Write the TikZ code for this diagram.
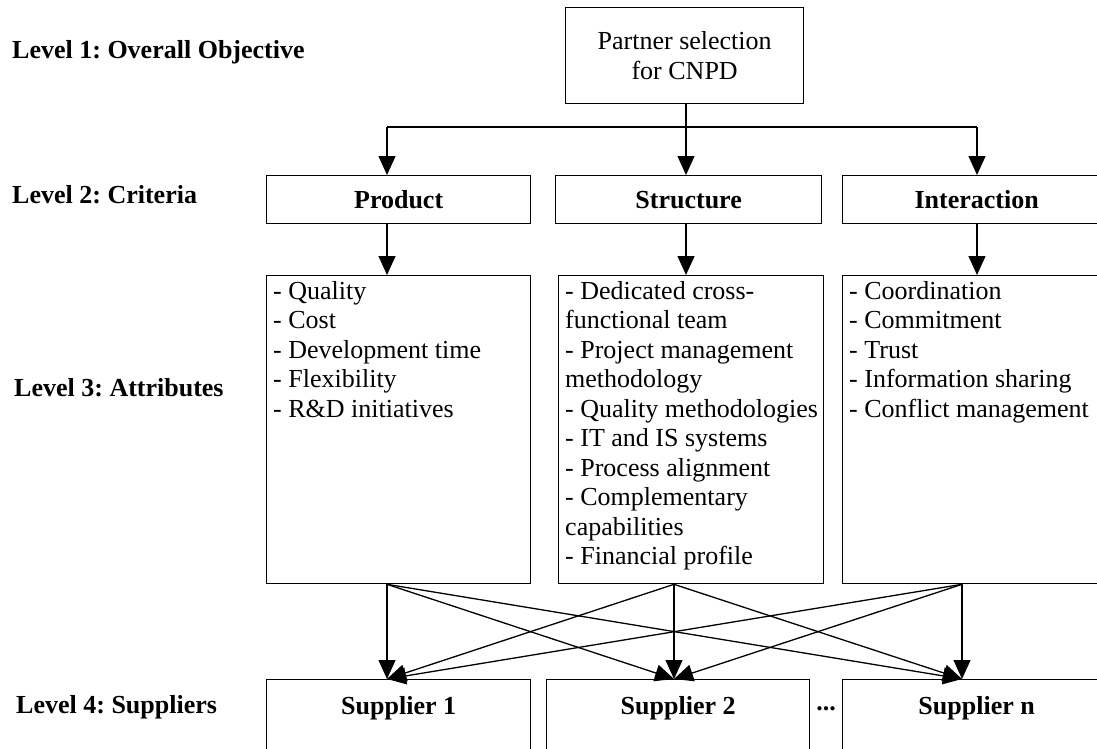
\documentclass[tikz,border=0pt]{standalone}
\usepackage{fontspec}
\setmainfont{Liberation Serif}
\usetikzlibrary{arrows.meta,positioning}
\frenchspacing

\tikzset{
  box/.style={draw, line width=1.3pt, inner sep=0pt, anchor=north west},
  head/.style={font=\fontsize{26}{30}\selectfont\bfseries, inner sep=0pt},
  attr/.style={font=\fontsize{26}{29.5}\selectfont, align=left, inner sep=0pt},
  arr/.style={line width=1.3pt, -{Triangle[length=19pt,width=17pt]}},
}

\begin{document}
\begin{tikzpicture}[x=1pt,y=-1pt]
            \clip (0,0) rectangle (1097,749);

            %level names
            \node[head, anchor=west] (lev1) at (12,52) {Level 1: Overall Objective};

            \node[head, anchor=west] (lev2) at (12,195) {Level 2: Criteria};

            \node[head, anchor=west] (lev3) at (14,388) {Level 3: Attributes};

            \node[head, anchor=west] (lev4) at (16,707) {Level 4: Suppliers};

            %objective
            \node[box, minimum width=238pt, minimum height=96pt, align=center, font=\fontsize{26}{30}\selectfont] (goal) at (565,7) {Partner selection\\for CNPD};

            %criteria
            \node[box, head, minimum width=264pt, minimum height=48pt] (prod2) at (266,175) {Product};

            \node[box, head, minimum width=266pt, minimum height=48pt] (struc2) at (555,175) {Structure};

            \node[box, head, minimum width=268pt, minimum height=48pt] (inter2) at (842,175) {Interaction};

            %attributes
            \node[box, minimum width=264pt, minimum height=308pt] (prod3) at (266,275) {};

            \node[attr, below right=6pt and 7pt of prod3.north west] (prodlist) {- Quality\\- Cost\\- Development time\\- Flexibility\\- R\&D initiatives};

            \node[box, minimum width=265pt, minimum height=308pt] (struc3) at (558,275) {};

            \node[attr, below right=6pt and 7pt of struc3.north west] (struclist) {- Dedicated cross-\\functional team\\- Project management\\methodology\\- Quality methodologies\\- IT and IS systems\\- Process alignment\\- Complementary\\capabilities\\- Financial profile};

            \node[box, minimum width=268pt, minimum height=308pt] (inter3) at (842,275) {};

            \node[attr, below right=6pt and 7pt of inter3.north west] (interlist) {- Coordination\\- Commitment\\- Trust\\- Information sharing\\- Conflict management};

            %suppliers
            \node[box, minimum width=264pt, minimum height=100pt] (sup1) at (266,679) {};

            \node[head, below=17pt of sup1.north] (sup1name) {Supplier 1};

            \node[box, minimum width=263pt, minimum height=100pt] (sup2) at (546,679) {};

            \node[head, below=17pt of sup2.north] (sup2name) {Supplier 2};

            \node[head] (dots) at (826,709) {...};

            \node[box, minimum width=268pt, minimum height=100pt] (supn) at (842,679) {};

            \node[head, below=17pt of supn.north] (supnname) {Supplier n};

            %columns
            \coordinate (bus) at (0,127);
            \coordinate (xa) at (387,0);
            \coordinate (xb) at (686,0);
            \coordinate (xbb) at (674,0);
            \coordinate (xc) at (977,0);
            \coordinate (xcc) at (962,0);

            %objective to criteria
            \draw[line width=1.3pt] (bus -| xa) -- (bus -| xc);

            \draw[arr] (goal.south -| xb) -- (struc2.north -| xb);

            \draw[arr] (bus -| xa) -- (prod2.north -| xa);

            \draw[arr] (bus -| xc) -- (inter2.north -| xc);

            %criteria to attributes
            \draw[arr] (prod2.south -| xa) -- (prod3.north -| xa);

            \draw[arr] (struc2.south -| xb) -- (struc3.north -| xb);

            \draw[arr] (inter2.south -| xc) -- (inter3.north -| xc);

            %attributes to suppliers
            \draw[arr] (prod3.south -| xa) -- (sup1.north -| xa);

            \draw[arr] (prod3.south -| xa) -- (sup2.north -| xbb);

            \draw[arr] (prod3.south -| xa) -- (supn.north -| xcc);

            \draw[arr] (struc3.south -| xbb) -- (sup1.north -| xa);

            \draw[arr] (struc3.south -| xbb) -- (sup2.north -| xbb);

            \draw[arr] (struc3.south -| xbb) -- (supn.north -| xcc);

            \draw[arr] (inter3.south -| xcc) -- (sup1.north -| xa);

            \draw[arr] (inter3.south -| xcc) -- (sup2.north -| xbb);

            \draw[arr] (inter3.south -| xcc) -- (supn.north -| xcc);
        \end{tikzpicture}
\end{document}
